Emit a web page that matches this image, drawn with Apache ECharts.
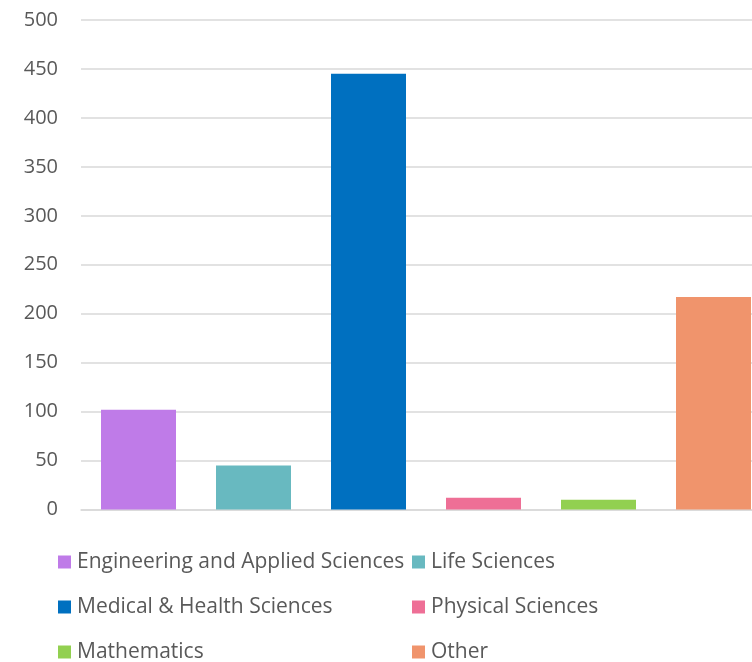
<!DOCTYPE html>
<html><head><meta charset="utf-8">
<script src="https://cdn.jsdelivr.net/npm/echarts@6/dist/echarts.min.js"></script>
<style>html,body{margin:0;padding:0;background:#fff}#c{width:752px;height:662px}</style>
</head><body><div id="c"></div>
<script>
const categories = ["Engineering and Applied Sciences","Life Sciences","Medical & Health Sciences","Physical Sciences","Mathematics","Other"];
const values = [102, 45, 445, 12, 10, 217];
const colors = ["#BF7BE8","#68B9C0","#0070C0","#EE6F96","#92D050","#F0946C"];
const yTicks = [0,50,100,150,200,250,300,350,400,450,500];

const chart = echarts.init(document.getElementById('c'));
const series = categories.map((name, i) => ({
  name: name,
  type: 'bar',
  stack: 'all',
  barWidth: 75,
  itemStyle: {color: colors[i]},
  data: categories.map((c, j) => j === i ? values[i] : null)
}));
const legendBase = {
  orient: 'vertical', top: 551.5, height: 150, itemWidth: 13, itemHeight: 13, itemGap: 24,
  padding: 0,
  icon: 'rect', textStyle: {fontFamily: 'Open Sans', fontSize: 21, lineHeight: 21, color: '#595959', padding:[0,0,0,1]},
  selectedMode: false
};
chart.setOption({
  animation: false,
  grid: {left: 81, top: 20, height: 489.5, width: 690, containLabel: false, outerBoundsMode: 'none'},
  legend: [
    Object.assign({}, legendBase, {left: 58, data: [categories[0], categories[2], categories[4]]}),
    Object.assign({}, legendBase, {left: 412, data: [categories[1], categories[3], categories[5]]})
  ],
  xAxis: {type: 'category', data: categories, axisLabel: {show: false}, axisTick: {show: false},
    axisLine: {lineStyle: {color: '#D9D9D9', width: 1.5}}},
  yAxis: {type: 'value', min: yTicks[0], max: yTicks[yTicks.length-1], interval: 50,
    axisLabel: {fontFamily: 'Open Sans', fontSize: 20, color: '#595959', margin: 23},
    splitLine: {lineStyle: {color: '#D9D9D9', width: 1.5}}},
  series: series
});
</script></body></html>
